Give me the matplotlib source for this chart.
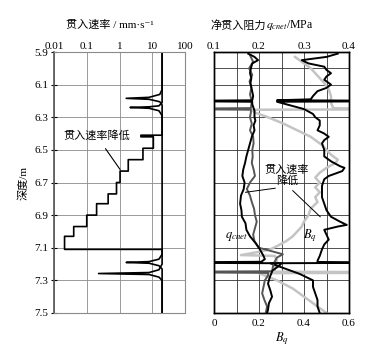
import numpy as np
import matplotlib
matplotlib.use('Agg')
import matplotlib.pyplot as plt

plt.rcParams['font.family'] = ['Liberation Serif', 'Noto Sans CJK SC', 'DejaVu Sans']
plt.rcParams['mathtext.fontset'] = 'stix'
plt.rcParams['font.size'] = 8

# ---- left panel: penetration rate (mm/s) vs depth (m)
# test 1: staircase reduction of rate + two rod-stop spikes
rate1_depth = [5.90, 6.13, 6.16, 6.178, 6.184, 6.19, 6.205, 6.225, 6.41, 6.41, 6.42, 6.42,
               6.49, 6.49, 6.56, 6.56, 6.63, 6.63, 6.70, 6.70, 6.77, 6.77, 6.83, 6.83,
               6.90, 6.90, 6.97, 6.97, 7.03, 7.03, 7.11, 7.11, 7.14, 7.17, 7.185, 7.19,
               7.195, 7.21, 7.23, 7.50]
rate1 = [20, 20, 17, 8, 1.6, 8, 17, 20, 20, 4.5, 4.5, 10.8,
         10.8, 5.2, 5.2, 1.85, 1.85, 1.04, 1.04, 0.81, 0.81, 0.45, 0.45, 0.20,
         0.20, 0.10, 0.10, 0.040, 0.040, 0.021, 0.021, 20, 20, 16, 8, 1.6,
         8, 16, 20, 20]
# test 2: constant rate with two rod-stop spikes
rate2_depth = [5.90, 6.21, 6.23, 6.236, 6.24, 6.245, 6.26, 6.29, 7.20, 7.235, 7.252,
               7.258, 7.264, 7.28, 7.30, 7.50]
rate2 = [20, 20, 16, 8, 2.1, 8, 16, 20, 20, 16, 8, 0.23, 8, 16, 20, 20]

# ---- right panel: net cone resistance q_cnet (MPa) and B_q vs depth
q1_depth = [5.91, 5.93, 5.95, 5.97, 6.00, 6.03, 6.06, 6.09, 6.13, 6.17, 6.196, 6.198, 6.203,
            6.205, 6.22, 6.26, 6.30, 6.32, 6.35, 6.38, 6.42, 6.46, 6.50, 6.54, 6.58, 6.62,
            6.66, 6.70, 6.74, 6.78, 6.83, 6.87, 6.91, 6.95, 6.99, 7.03, 7.07, 7.11, 7.15,
            7.17, 7.186, 7.188, 7.193, 7.195, 7.21, 7.24, 7.28, 7.32, 7.36, 7.40, 7.44,
            7.48, 7.50]
q1 = [0.176, 0.19, 0.198, 0.185, 0.182, 0.18, 0.183, 0.181, 0.184, 0.187, 0.185, 0.09, 0.09,
      0.185, 0.185, 0.19, 0.19, 0.192, 0.188, 0.19, 0.184, 0.18, 0.176, 0.172, 0.169, 0.165,
      0.163, 0.168, 0.166, 0.16, 0.158, 0.161, 0.162, 0.17, 0.172, 0.18, 0.192, 0.202, 0.21,
      0.213, 0.205, 0.09, 0.09, 0.25, 0.245, 0.23, 0.224, 0.22, 0.225, 0.229, 0.222,
      0.22, 0.218]

q2_depth = [5.92, 5.96, 6.00, 6.04, 6.08, 6.12, 6.16, 6.20, 6.244, 6.246, 6.252, 6.254,
            6.27, 6.30, 6.34, 6.38, 6.42, 6.46, 6.50, 6.54, 6.58, 6.62, 6.66, 6.70, 6.74,
            6.78, 6.82, 6.86, 6.90, 6.94, 6.98, 7.02, 7.06, 7.10, 7.13, 7.14, 7.16, 7.20,
            7.244, 7.246, 7.252, 7.254, 7.27, 7.30, 7.34, 7.38, 7.42, 7.46, 7.50]
q2 = [0.18, 0.187, 0.178, 0.185, 0.179, 0.183, 0.18, 0.184, 0.182, 0.09, 0.09, 0.182,
      0.182, 0.18, 0.184, 0.18, 0.187, 0.188, 0.185, 0.186, 0.184, 0.188, 0.191, 0.18, 0.173,
      0.18, 0.184, 0.189, 0.191, 0.195, 0.191, 0.187, 0.19, 0.2, 0.24, 0.253, 0.24, 0.232,
      0.229, 0.09, 0.09, 0.22, 0.22, 0.213, 0.21, 0.207, 0.212, 0.218, 0.215]

bq1_depth = [5.91, 5.93, 5.95, 5.97, 5.99, 6.01, 6.03, 6.05, 6.07, 6.10, 6.12, 6.14, 6.17,
             6.19, 6.196, 6.198, 6.203, 6.205, 6.22, 6.25, 6.28, 6.30, 6.32, 6.35, 6.38,
             6.40, 6.42, 6.44, 6.46, 6.50, 6.54, 6.57, 6.60, 6.61, 6.63, 6.64, 6.66, 6.68,
             6.72, 6.75, 6.79, 6.83, 6.87, 6.91, 6.94, 6.96, 6.97, 6.99, 7.02, 7.05, 7.08,
             7.11, 7.15, 7.18, 7.187, 7.189, 7.193, 7.195, 7.22, 7.26, 7.30, 7.34, 7.38,
             7.42, 7.46, 7.50]
bq1 = [0.55, 0.50, 0.39, 0.42, 0.49, 0.50, 0.52, 0.50, 0.49, 0.52, 0.50, 0.46, 0.44,
       0.43, 0.28, 0.65, 0.65, 0.28, 0.32, 0.40, 0.44, 0.45, 0.47, 0.47, 0.46,
       0.49, 0.51, 0.49, 0.48, 0.49, 0.49, 0.52, 0.56, 0.58, 0.57, 0.55, 0.51, 0.49,
       0.48, 0.48, 0.48, 0.49, 0.50, 0.52, 0.56, 0.59, 0.55, 0.49, 0.50, 0.51, 0.49,
       0.48, 0.47, 0.46, 0.46, 0.65, 0.65, 0.25, 0.30, 0.38, 0.44, 0.44, 0.45,
       0.46, 0.46, 0.47]

bq2_depth = [5.93, 5.95, 5.97, 6.00, 6.03, 6.06, 6.09, 6.13, 6.17, 6.21, 6.245, 6.247,
             6.252, 6.254, 6.27, 6.30, 6.34, 6.38, 6.42, 6.44, 6.47, 6.50, 6.53, 6.56, 6.58,
             6.61, 6.64, 6.67, 6.70, 6.73, 6.76, 6.79, 6.82, 6.86, 6.90, 6.94, 6.97, 7.00,
             7.03, 7.06, 7.09, 7.11, 7.13, 7.145, 7.15, 7.18, 7.22, 7.247, 7.249, 7.254,
             7.256, 7.30, 7.35, 7.40, 7.45, 7.50]
bq2 = [0.36, 0.38, 0.40, 0.43, 0.45, 0.47, 0.49, 0.51, 0.52, 0.52, 0.53, 0.65,
       0.65, 0.17, 0.18, 0.24, 0.31, 0.37, 0.43, 0.45, 0.48, 0.50, 0.52, 0.55, 0.54,
       0.50, 0.47, 0.45, 0.47, 0.45, 0.47, 0.45, 0.46, 0.43, 0.42, 0.40, 0.39, 0.37,
       0.35, 0.32, 0.28, 0.25, 0.18, 0.12, 0.27, 0.28, 0.27, 0.27, 0.65, 0.65,
       0.20, 0.28, 0.35, 0.40, 0.45, 0.50]

depth_ticks = [5.9, 6.1, 6.3, 6.5, 6.7, 6.9, 7.1, 7.3, 7.5]

fig = plt.figure(figsize=(3.65, 3.51), dpi=100)
W, H = 365.0, 351.0
ax1 = fig.add_axes([54 / W, 1 - 313 / H, 131 / W, 261 / H])
ax2 = fig.add_axes([214 / W, 1 - 313 / H, 135 / W, 261 / H])

# left panel
ax1.set_xscale('log')
ax1.plot(rate2, rate2_depth, color='black', lw=1.2)
ax1.plot(rate1, rate1_depth, color='black', lw=1.2)
ax1.set_xlim(0.01, 100)
ax1.set_ylim(7.5, 5.9)
ax1.set_yticks(depth_ticks)
ax1.set_yticklabels([f'{d:.1f}' for d in depth_ticks])
ax1.set_xticks([0.01, 0.1, 1, 10, 100])
ax1.set_xticklabels(['0.01', '0.1', '1', '10', '100'])
ax1.xaxis.tick_top()
ax1.tick_params(axis='x', which='minor', length=0)
ax1.tick_params(axis='x', which='major', length=0, pad=1)
ax1.tick_params(axis='y', length=4, direction='inout', pad=2)
ax1.grid(True, which='both', axis='x', color='#8a8a8a', lw=0.6)
ax1.grid(True, which='major', axis='y', color='#8a8a8a', lw=0.6)
for s in ['top', 'bottom', 'right']:
    ax1.spines[s].set_color('#8a8a8a')
ax1.spines['left'].set_color('#555555')
ax1.spines['left'].set_lw(1.2)
ax1.annotate('贯入速率降低', xy=(1.04, 6.62), xytext=(0.2, 6.415),
             ha='center', va='center', fontsize=8,
             arrowprops=dict(arrowstyle='-', color='black', lw=0.8, shrinkA=4, shrinkB=0))
ax1.set_ylabel('深度/m', fontsize=8, labelpad=4)

# right panel: B_q on bottom axis, q_cnet on top axis
ax2.plot(bq2, bq2_depth, color='#c4c4c4', lw=1.8)
ax2.plot(bq1, bq1_depth, color='black', lw=1.4)
ax2.set_xlim(0, 0.6)
ax2.set_ylim(7.5, 5.9)
ax2.set_xticks([0, 0.2, 0.4, 0.6])
ax2.set_xticklabels(['0', '0.2', '0.4', '0.6'])
ax2.set_xticks(np.arange(0, 0.61, 0.1), minor=True)
ax2.set_yticks([6.0, 6.1, 6.3, 6.5, 6.7, 6.9, 7.1, 7.3])
ax2.set_yticklabels([])
ax2.tick_params(axis='y', length=0)
ax2.tick_params(axis='x', which='both', length=0, pad=4)
ax2.grid(True, which='both', axis='x', color='#333333', lw=0.6)
ax2.grid(True, which='major', axis='y', color='#333333', lw=0.6)
ax2.set_xlabel('$B_q$', fontsize=9, labelpad=2)

ax3 = ax2.twiny()
ax3.plot(q2, q2_depth, color='#555555', lw=1.4)
ax3.plot(q1, q1_depth, color='black', lw=1.4)
ax3.set_xlim(0.1, 0.4)
ax3.set_xticks([0.1, 0.2, 0.3, 0.4])
ax3.set_xticklabels(['0.1', '0.2', '0.3', '0.4'])
ax3.tick_params(axis='x', length=0, pad=1)
for a in (ax2, ax3):
    for s in a.spines.values():
        s.set_color('black')
        s.set_lw(1.0)

ax3.text(0.262, 6.655, '贯入速率\n降低', ha='center', va='center', fontsize=8, linespacing=1.1)
ax3.plot([0.236, 0.17], [6.735, 6.76], color='black', lw=0.7)
ax3.plot([0.275, 0.336], [6.75, 6.91], color='black', lw=0.7)
ax3.text(0.151, 7.03, '$q_{cnet}$', ha='center', va='center', fontsize=9)
ax3.text(0.313, 7.025, '$B_q$', ha='center', va='center', fontsize=9)

# titles: CJK part as plain text, math part as separate mathtext
fig.text(110 / W, 1 - 25 / H, '贯入速率 / mm·s⁻¹', ha='center', va='center', fontsize=8)
fig.text(266 / W, 1 - 25 / H, '净贯入阻力', ha='right', va='center', fontsize=8)
fig.text(266 / W, 1 - 25.5 / H, '$q_{cnet}$/MPa', ha='left', va='center', fontsize=8.5)

fig.savefig('out.png', dpi=100)
